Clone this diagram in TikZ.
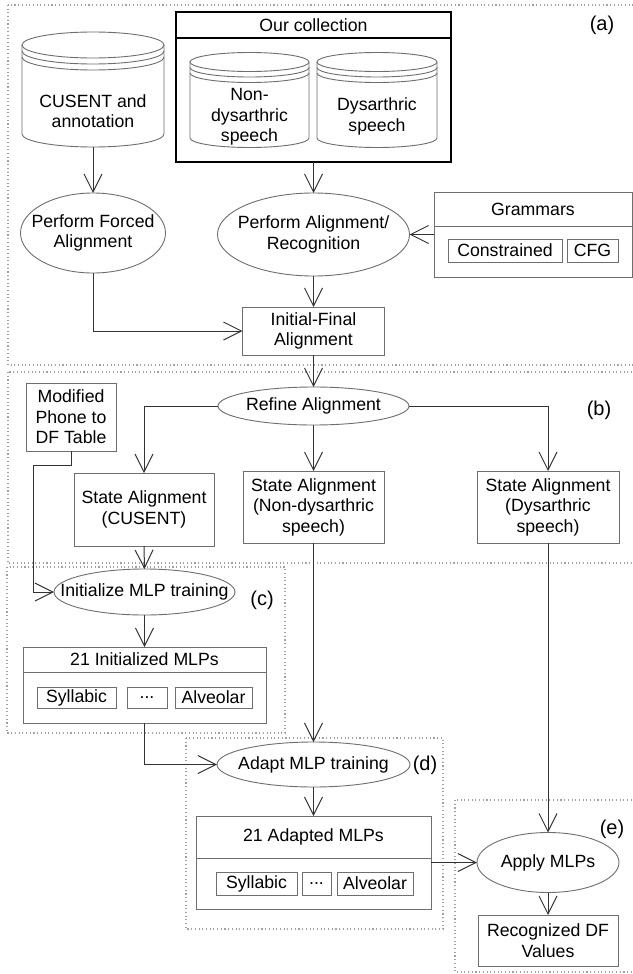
\documentclass[tikz,border=0pt]{standalone}
\usepackage{fontspec}
\setmainfont{Liberation Sans}
\usetikzlibrary{arrows.meta,shapes.geometric,calc}
\definecolor{edgec}{HTML}{333333}
\definecolor{boxc}{HTML}{6E6E6E}
\definecolor{dotc}{HTML}{A0A0A0}
\newcommand\drawcyl[6]{% cx, top-center y, bottom-center y, rx, ry, band gap
  \draw[cylline] (#1-#4,#2) -- (#1-#4,#3) arc[start angle=180,end angle=360,x radius=#4pt,y radius=#5pt] -- (#1+#4,#2);
  \draw[cylline] (#1,#2) ellipse[x radius=#4pt,y radius=#5pt];
  \draw[cylline] (#1-#4,#2+#6) arc[start angle=180,end angle=360,x radius=#4pt,y radius=#5pt];
  \draw[cylline] (#1-#4,#2+2*#6) arc[start angle=180,end angle=360,x radius=#4pt,y radius=#5pt];
}
\newcommand\threedots{.\kern0pt.\kern0pt.}
\tikzset{
  every node/.style={font=\fontsize{17.7pt}{20.5pt}\selectfont, inner sep=0pt, outer sep=0pt, align=center},
  box/.style={draw=boxc, line width=0.9pt, fill=white, rectangle},
  oval/.style={draw=boxc, line width=0.9pt, fill=white, ellipse, inner xsep=-25pt, inner ysep=-15pt},
  arr/.style={draw=edgec, line width=1pt, -{Straight Barb[length=18pt,width=18pt,line width=1pt]}},
  region/.style={draw=dotc, line width=1.1pt, dash pattern=on 1.1pt off 2.6pt},
  tag/.style={font=\fontsize{20pt}{24pt}\selectfont},
  cylline/.style={draw=boxc, line width=0.9pt},
}
\begin{document}
\begin{tikzpicture}[x=1pt,y=-1pt]
\fill[white] (0,0) rectangle (632,974);
\useasboundingbox (0,0) rectangle (632,974);
% regions
\draw[region] (8,5) rectangle (660,365);
\draw[region] (8,372) rectangle (660,563);
\draw[region] (7,567) rectangle (285,733);
\draw[region] (186,738) rectangle (443,929);
\draw[region] (455,800) rectangle (660,972);
\node[tag] (la) at (602,25) {(a)};
\node[tag] (lb) at (599,410) {(b)};
\node[tag] (lc) at (262,600) {(c)};
\node[tag] (ld) at (425,765) {(d)};
\node[tag] (le) at (612,829) {(e)};
% (a)
\drawcyl{93}{45}{134}{71}{13}{6}
\node (cusent) at (93,111) {CUSENT and\\annotation};
\coordinate (cusbot) at (93,147);
\node[draw=black, line width=1.8pt, minimum width=275pt, minimum height=150pt] (coll) at (313.5,87) {};
\draw[black, line width=1.5pt] (176,38) -- (451,38);
\node (collt) at (313.5,25) {Our collection};
\drawcyl{249.5}{62}{138}{59.5}{9.5}{5.5}
\node (nondys) at (249.5,117) {Non-\\dysarthric\\speech};
\drawcyl{377}{62}{138}{60}{9.5}{5.5}
\node (dys) at (377,116.5) {Dysarthric\\speech};
\node[oval, minimum width=145pt, minimum height=80pt] (pfa) at (93,233) {Perform Forced\\Alignment};
\node[oval, minimum width=192pt, minimum height=83pt] (paa) at (313.5,234.5) {Perform Alignment/\\Recognition};
\node[box, minimum width=198pt, minimum height=85pt] (grm) at (533,234.5) {};
\draw[boxc, line width=0.9pt] (434,226) -- (632,226);
\node (grmt) at (533,209) {Grammars};
\node[box, minimum width=114pt, minimum height=23pt] (con) at (505,250.5) {Constrained};
\node[box, minimum width=51pt, minimum height=23pt] (cfg) at (592.5,250.5) {CFG};
\node[box, minimum width=142pt, minimum height=48pt] (ifa) at (313.5,331) {Initial-Final\\Alignment};
% (b)
\node[oval, minimum width=191pt, minimum height=38pt] (ref) at (313.5,406) {Refine Alignment};
\node[box, minimum width=90pt, minimum height=68pt] (mod) at (71,417) {Modified\\Phone to\\DF Table};
\node[box, minimum width=140pt, minimum height=73pt] (stc) at (144,509.5) {State Alignment\\(CUSENT)};
\node[box, minimum width=141pt, minimum height=72pt] (stn) at (313.5,507) {State Alignment\\(Non-dysarthric\\speech)};
\node[box, minimum width=142pt, minimum height=72pt] (std) at (548,507) {State Alignment\\(Dysarthric\\speech)};
% (c)
\node[oval, minimum width=181pt, minimum height=46pt] (ini) at (144.5,592) {Initialize MLP training};
\node[box, minimum width=243pt, minimum height=76pt] (mlpa) at (144.5,685) {};
\draw[boxc, line width=0.9pt] (23,672) -- (266,672);
\node (mlpat) at (144.5,659.5) {21 Initialized MLPs};
\node[box, minimum width=79pt, minimum height=21pt] (sya) at (76.5,697.5) {Syllabic};
\node[box, minimum width=40pt, minimum height=21pt] (dta) at (147,697.5) {\threedots};
\node[box, minimum width=77pt, minimum height=21pt] (ala) at (213.5,697.5) {Alveolar};
% (d)
\node[oval, minimum width=193pt, minimum height=45pt] (ada) at (313.5,764.5) {Adapt MLP training};
\node[box, minimum width=235pt, minimum height=93pt] (mlpb) at (313.5,862.5) {};
\draw[boxc, line width=0.9pt] (196,858) -- (431,858);
\node (mlpbt) at (313.5,837) {21 Adapted MLPs};
\node[box, minimum width=81pt, minimum height=23pt] (syb) at (256.5,883.5) {Syllabic};
\node[box, minimum width=29pt, minimum height=23pt] (dtb) at (316.5,883.5) {\threedots};
\node[box, minimum width=76pt, minimum height=23pt] (alb) at (375,883.5) {Alveolar};
% (e)
\node[oval, minimum width=142pt, minimum height=60pt] (app) at (548,862.5) {Apply MLPs};
\node[box, minimum width=140pt, minimum height=51pt] (rec) at (548,940.5) {Recognized DF\\Values};
% connectors
\draw[arr] (cusbot) -- (pfa.north);
\draw[arr] (coll.south) -- (paa.north);
\draw[arr] (grm.west) -- (paa.east);
\draw[arr] (pfa.south) |- (ifa.west);
\draw[arr] (paa.south) -- (ifa.north);
\draw[arr] (ifa.south) -- (ref.north);
\draw[arr] (ref.west) -| (stc.north);
\draw[arr] (ref.south) -- (stn.north);
\draw[arr] (ref.east) -| (std.north);
\draw[arr] (mod.south) -- ++(0,14) -| ([xshift=-21pt]ini.west) -- (ini.west);
\draw[arr] (stc.south) -- (ini.north);
\draw[arr] (ini.south) -- (mlpa.north);
\draw[arr] (mlpa.south) |- (ada.west);
\draw[arr] (stn.south) -- (ada.north);
\draw[arr] (ada.south) -- (mlpb.north);
\draw[arr] (mlpb.east) -- (app.west);
\draw[arr] (std.south) -- (app.north);
\draw[arr] (app.south) -- (rec.north);
\end{tikzpicture}
\end{document}
